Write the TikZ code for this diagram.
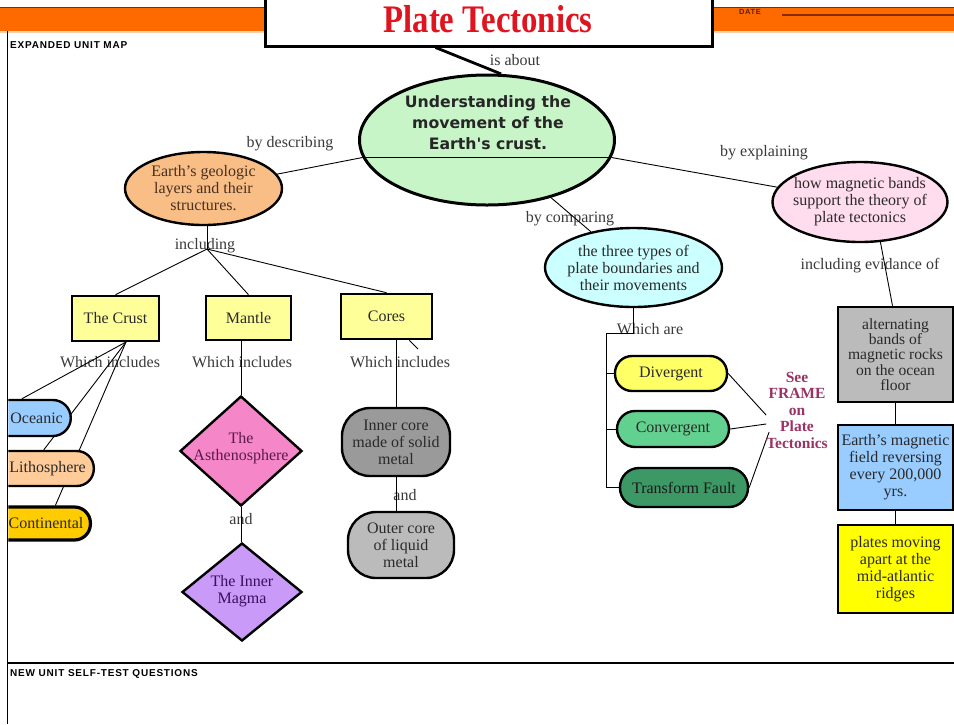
\documentclass[tikz,border=0pt]{standalone}
\usepackage{fontspec}
\setmainfont{Liberation Serif}
\newfontfamily\uifont{DejaVu Sans}
\newfontfamily\formfont{Liberation Sans}[LetterSpace=8]
\usetikzlibrary{shapes.geometric}

\definecolor{bandorange}{HTML}{FF6A00}
\definecolor{bandedge}{HTML}{8A2A00}
\definecolor{titlered}{HTML}{E0141E}
\definecolor{ink}{HTML}{2A2A2A}
\definecolor{lblink}{HTML}{3A3A3A}
\definecolor{brownink}{HTML}{4A3020}
\definecolor{mintgreen}{HTML}{C8F5C8}
\definecolor{peach}{HTML}{F8BE86}
\definecolor{paleyellow}{HTML}{FFFF99}
\definecolor{skyblue}{HTML}{99CCFF}
\definecolor{lightpeach}{HTML}{FFCC99}
\definecolor{gold}{HTML}{FFCC00}
\definecolor{hotpink}{HTML}{F586C8}
\definecolor{lavender}{HTML}{C99AF7}
\definecolor{plumink}{HTML}{5C1A4A}
\definecolor{violetink}{HTML}{3A1060}
\definecolor{darkgray}{HTML}{9A9A9A}
\definecolor{midgray}{HTML}{BBBBBB}
\definecolor{palecyan}{HTML}{CCFFFF}
\definecolor{palepink}{HTML}{FFDDEE}
\definecolor{lemon}{HTML}{FFFF66}
\definecolor{seagreen}{HTML}{62D08E}
\definecolor{forest}{HTML}{3C9966}
\definecolor{framepurple}{HTML}{993366}
\definecolor{brightyellow}{HTML}{FFFF00}

\pgfdeclarelayer{labels}
\pgfdeclarelayer{wires}
\pgfsetlayers{labels,wires,main}

\begin{document}
\begin{tikzpicture}[x=1pt,y=-1pt,
  txt/.style={font=\fontsize{16}{17}\selectfont, text=ink, align=center, inner sep=0pt},
  lbl/.style={txt, text=lblink},
  wire/.style={draw=black, line width=0.9pt},
  ovalnode/.style={ellipse, draw=black, line width=2.4pt, txt, inner sep=-12pt},
  boxnode/.style={rectangle, draw=black, line width=2.6pt, inner sep=0pt, txt},
  pillnode/.style={rectangle, draw=black, line width=2.4pt, txt},
  gemnode/.style={diamond, draw=black, line width=2.4pt, inner sep=0pt},
  formtxt/.style={font=\formfont\bfseries\fontsize{10}{12}\selectfont, text=black, inner sep=0pt, anchor=west}
]
\useasboundingbox (0,0) rectangle (954,724);

% ---------- form frame ----------
\begin{pgfonlayer}{labels}
  \fill[white] (0,0) rectangle (954,724);
  \fill[bandorange] (0,7) rectangle (954,31);
  \fill[bandorange!30] (0,31) rectangle (954,33);
  \draw[bandedge, line width=0.8pt] (0,7) -- (954,7);
  \draw[black, line width=1.5pt] (7.5,31) -- (7.5,724);
  \draw[black, line width=2pt] (7.5,663) -- (954,663);
  \draw[bandedge, line width=1.6pt] (782,15) -- (954,15);
\end{pgfonlayer}
\node[formtxt, font=\formfont\bfseries\fontsize{7.5}{8}\selectfont, text=bandedge!70!black] (datelbl) at (739,12) {DATE};
\node[formtxt] (unitmap) at (10,45) {EXPANDED UNIT MAP};
\node[formtxt] (selftest) at (10,674) {NEW UNIT SELF-TEST QUESTIONS};

% ---------- title ----------
\node[draw=black, line width=3pt, fill=white, minimum width=447pt, minimum height=62pt, inner sep=0pt] (title) at (488.5,15) {};
\node[inner sep=0pt, text=titlered, font=\bfseries\fontsize{39}{39}\selectfont] (titletext) at (488,19) {\scalebox{0.84}[1]{Plate Tectonics}};

% ---------- central idea ----------
\node[ovalnode, fill=mintgreen, line width=3pt, minimum width=255pt, minimum height=130pt] (main) at (487,140) {};
\draw[line width=1.1pt] (main.188) -- (main.-8);
\node[inner sep=0pt, align=center, text=black!85, font=\uifont\bfseries\fontsize{15.7}{21}\selectfont] (maintext) at (488,123) {Understanding the\\movement of the\\Earth's crust.};

% ---------- left branch: layers ----------
\node[ovalnode, fill=peach, text=brownink, minimum width=157pt, minimum height=73pt] (geo) at (203.5,188.5) {Earth's geologic\\layers and their\\structures.};
\node[boxnode, fill=paleyellow, minimum width=87pt, minimum height=45pt] (crust) at (115.5,318.5) {The Crust};
\node[boxnode, fill=paleyellow, minimum width=85pt, minimum height=44pt] (mantle) at (248.5,318) {Mantle};
\node[boxnode, fill=paleyellow, minimum width=91pt, minimum height=45pt] (cores) at (386.5,316.5) {Cores};

\begin{scope}
  \clip (8.3,30) rectangle (954,724);
  \node[pillnode, fill=skyblue, rounded corners=18pt, anchor=east, minimum height=36pt, inner xsep=8pt, inner ysep=0pt, text width=84pt, align=right] (oce) at (72,418) {Oceanic};
  \node[pillnode, fill=lightpeach, rounded corners=17pt, anchor=east, minimum height=35pt, inner xsep=8pt, inner ysep=0pt, text width=104pt, align=right] (lit) at (95,468.5) {Lithosphere};
  \node[pillnode, fill=gold, line width=3.2pt, rounded corners=16pt, anchor=east, minimum height=33pt, inner xsep=7pt, inner ysep=0pt, text width=104pt, align=right] (cont) at (92,523.5) {Continental};
\end{scope}

\node[gemnode, fill=hotpink, minimum width=122pt, minimum height=110pt] (asth) at (241,451) {};
\node[txt, text=plumink] (asthtext) at (241,448) {The\\Asthenosphere};
\node[gemnode, fill=lavender, minimum width=120pt, minimum height=98pt] (magma) at (242,592) {};
\node[txt, text=violetink] (magmatext) at (242,591) {The Inner\\Magma};

\node[pillnode, fill=darkgray, rounded corners=28pt, minimum width=108pt, minimum height=68pt, inner sep=0pt] (inner) at (396,442) {Inner core\\made of solid\\metal};
\node[pillnode, fill=midgray, rounded corners=28pt, minimum width=106pt, minimum height=66pt, inner sep=0pt] (outer) at (401,545) {Outer core\\of liquid\\metal};

% ---------- middle branch: boundaries ----------
\node[ovalnode, fill=palecyan, minimum width=177pt, minimum height=79pt] (cyan) at (633.5,267.5) {the three types of\\plate boundaries and\\their movements};
\node[pillnode, fill=lemon, rounded corners=17pt, minimum width=112pt, minimum height=35pt, inner sep=0pt] (div) at (671,373.5) {Divergent};
\node[pillnode, fill=seagreen, rounded corners=18pt, minimum width=112pt, minimum height=36pt, inner sep=0pt] (conv) at (673,429) {Convergent};
\node[pillnode, fill=forest, rounded corners=19pt, minimum width=128pt, minimum height=39pt, inner sep=0pt, text=black!90] (tf) at (684,487.5) {Transform Fault};
\node[txt, text=framepurple, font=\bfseries\fontsize{15.5}{16.5}\selectfont] (seeframe) at (797,410) {See\\FRAME\\on\\Plate\\Tectonics};

% ---------- right branch: magnetic evidence ----------
\node[ovalnode, fill=palepink, minimum width=175pt, minimum height=80pt] (magn) at (860,202) {how magnetic bands\\support the theory of\\plate tectonics};
\node[boxnode, fill=midgray, minimum width=115pt, minimum height=95pt, font=\fontsize{15.6}{15.4}\selectfont] (gray) at (895.5,354.5) {alternating\\bands of\\magnetic rocks\\on the ocean\\floor};
\node[boxnode, fill=skyblue, minimum width=115pt, minimum height=85pt] (blue) at (895.5,467.5) {Earth's magnetic\\field reversing\\every 200,000\\yrs.};
\node[boxnode, fill=brightyellow, minimum width=115pt, minimum height=88pt] (yellow) at (895.5,569) {plates moving\\apart at the\\mid-atlantic\\ridges};

% ---------- linking phrases ----------
\begin{pgfonlayer}{labels}
  \node[lbl] (l-about) at (515,60) {is about};
  \node[lbl] (l-describe) at (290,144) {by describing};
  \node[lbl] (l-including) at (205,246) {including};
  \node[lbl] (l-explain) at (764,153) {by explaining};
  \node[lbl] (l-compare) at (570,219) {by comparing};
  \node[lbl] (l-whichare) at (650,329) {Which are};
  \node[lbl] (l-evidence) at (870,266) {including evidance of};
  \node[lbl] (l-crust) at (110,362) {Which includes};
  \node[lbl] (l-mantle) at (242,362) {Which includes};
  \node[lbl] (l-cores) at (400,362) {Which includes};
  \node[lbl] (l-and1) at (241,519) {and};
  \node[lbl] (l-and2) at (405,495) {and};
\end{pgfonlayer}

% ---------- connectors ----------
\coordinate (inc) at (207,249);
\coordinate (crh) at (126,342);
\coordinate (ctick) at (418,349);
\coordinate (wa) at (606,333);

\begin{pgfonlayer}{wires}
  \draw[line width=2.8pt] ([xshift=-53pt]title.south) -- (main.78);
  \draw[wire] (geo.center) -- (main.188);
  \draw[wire] (main.-8) -- (magn.center);
  \draw[wire] (main.-42) -- (cyan.140);

  \draw[wire] (inc |- geo.south) -- (inc);
  \draw[wire] (inc) -- (crust.north);
  \draw[wire] (inc) -- (mantle.north);
  \draw[wire] (inc) -- (cores.north);

  \draw[wire] (crh) -- ([xshift=1pt]oce.north);
  \draw[wire] (crh) -- ([xshift=10pt]lit.north);
  \draw[wire] (crh) -- ([xshift=24pt]cont.north);

  \draw[wire] (asth.north |- mantle.south) -- (asth.north);
  \draw[wire] (asth.south) -- (asth.south |- magma.north);

  \draw[wire] (inner.north |- cores.south) -- (inner.north);
  \draw[wire] ([xshift=-24pt]cores.south east) -- (ctick);
  \draw[wire] (inner.south) -- (inner.south |- outer.north);

  \draw[wire] (cyan.south) |- (wa);
  \draw[wire] (wa) |- (tf.west);
  \draw[wire] (wa |- div.west) -- (div.west);
  \draw[wire] (wa |- conv.west) -- (conv.west);
  \draw[wire] (div.east) -- ([yshift=-5pt]seeframe.west);
  \draw[wire] (conv.east) -- ([yshift=-14pt]seeframe.west);
  \draw[wire] (tf.east) -- ([yshift=-22pt,xshift=3pt]seeframe.west);

  \draw[wire] (magn.-63) -- ([xshift=-3pt]gray.north);
  \draw[wire] (gray.south) -- (blue.north);
  \draw[wire] (blue.south) -- (yellow.north);
\end{pgfonlayer}
\end{tikzpicture}
\end{document}
